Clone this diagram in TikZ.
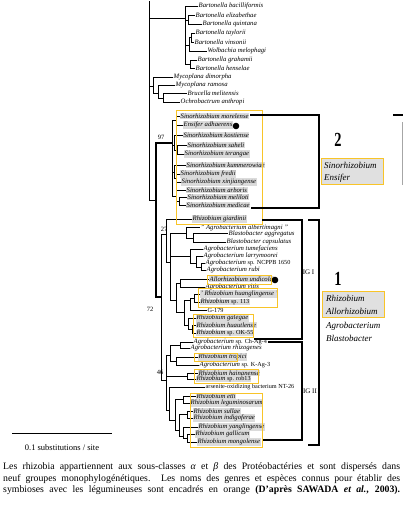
\documentclass[tikz,border=0pt]{standalone}
\usepackage{fontspec}
\setmainfont{Liberation Serif}
\definecolor{boxy}{RGB}{248,196,40}
\newcommand{\uprt}[1]{{\upshape\fontsize{6.2}{7}\selectfont #1}}
\begin{document}
\begin{tikzpicture}[x=1pt,y=-1pt,
  leaf/.style={anchor=west,inner sep=0.5pt,font=\fontsize{6.7}{7}\selectfont\itshape},
  hl/.style={fill=black!14},
  br/.style={line width=0.6pt},
  thk/.style={line width=2.6pt},
  ybox/.style={draw=boxy,line width=0.9pt},
  brk/.style={line width=1.1pt},
  boot/.style={font=\fontsize{6.5}{7}\selectfont,inner sep=0pt},
  dotn/.style={circle,fill=black,inner sep=0pt,minimum size=6.6pt},
  gname/.style={anchor=west,inner sep=0pt,font=\fontsize{9}{10}\selectfont\itshape},
  gnum/.style={inner sep=0pt,font=\fontsize{20}{20}\selectfont\bfseries},
  iglab/.style={inner sep=0pt,font=\fontsize{7}{8}\selectfont},
  capline/.style={anchor=west,inner sep=0pt,font=\fontsize{9.8}{11}\selectfont}]
\useasboundingbox (0,0) rectangle (403,512);

% ---------- leaves ----------
\node[leaf] (l1) at (198,6) {Bartonella bacilliformis};
\node[leaf] (l2) at (195,15) {Bartonella elizabethae};
\node[leaf] (l3) at (202,24) {Bartonella quintana};
\node[leaf] (l4) at (195,33) {Bartonella taylorii};
\node[leaf] (l5) at (194,42) {Bartonella vinsonii};
\node[leaf] (l6) at (207,51) {Wolbachia melophagi};
\node[leaf] (l7) at (197,60) {Bartonella grahamii};
\node[leaf] (l8) at (195,68) {Bartonella henselae};
\node[leaf] (l9) at (173,77) {Mycoplana dimorpha};
\node[leaf] (l10) at (175,85) {Mycoplana ramosa};
\node[leaf] (l11) at (187,93) {Brucella\,melitensis};
\node[leaf] (l12) at (180,102) {Ochrobactrum anthropi};
\node[leaf,hl] (l13) at (180,116) {Sinorhizobium morelense};
\node[leaf,hl] (l14) at (183,125) {Ensifer adhaerens};
\node[leaf,hl] (l15) at (183,135) {Sinorhizobium kostiense};
\node[leaf,hl] (l16) at (187,145) {Sinorhizobium saheli};
\node[leaf,hl] (l17) at (184,154) {Sinorhizobium terangae};
\node[leaf,hl] (l18) at (186,165) {Sinorhizobium kummerowiae};
\node[leaf,hl] (l19) at (180,174) {Sinorhizobium fredii};
\node[leaf,hl] (l20) at (181,182) {Sinorhizobium xinjiangense};
\node[leaf,hl] (l21) at (186,190) {Sinorhizobium arboris};
\node[leaf,hl] (l22) at (187,197) {Sinorhizobium meliloti};
\node[leaf,hl] (l23) at (186,205) {Sinorhizobium medicae};
\node[leaf,hl] (l24) at (192,219) {Rhizobium giardinii};
\node[leaf] (l25) at (200,227.5) {" Agrobacterium albertimagni "};
\node[leaf] (l26) at (228,233.5) {Blastobacter aggregatus};
\node[leaf] (l27) at (226,242) {Blastobacter capsulatus};
\node[leaf] (l28) at (203,249) {Agrobacterium tumefaciens};
\node[leaf] (l29) at (203,256) {Agrobacterium larrymoorei};
\node[leaf] (l30) at (205,263) {Agrobacterium \uprt{sp. NCPPB 1650}};
\node[leaf] (l31) at (206,270) {Agrobacterium rubi};
\node[leaf,hl] (l32) at (209,279) {Allorhizobium undicola};
\node[leaf] (l33) at (205,287) {Agrobacterium vitis};
\node[leaf,hl] (l34) at (200,294) {' Rhizobium huanglingense '};
\node[leaf,hl] (l35) at (200,302) {Rhizobium \uprt{sp. 113}};
\node[leaf] (l36) at (207,310) {\uprt{G-179}};
\node[leaf,hl] (l37) at (196,318) {Rhizobium galegae};
\node[leaf,hl] (l38) at (196,325) {Rhizobium huautlense};
\node[leaf,hl] (l39) at (196,333) {Rhizobium \uprt{sp. OK-55}};
\node[leaf] (l40) at (193,342) {Agrobacterium \uprt{sp. Ch-Ag-4}};
\node[leaf] (l41) at (190,348) {Agrobacterium rhizogenes};
\node[leaf,hl] (l42) at (198,357) {Rhizobium tropici};
\node[leaf] (l43) at (199,365) {Agrobacterium \uprt{sp. K-Ag-3}};
\node[leaf,hl] (l44) at (198,373) {Rhizobium hainanense};
\node[leaf,hl] (l45) at (196,379) {Rhizobium \uprt{sp. rob13}};
\node[leaf] (l46) at (205,387) {\uprt{arsenite-oxidizing bacterium NT-26}};
\node[leaf,hl] (l47) at (196,396) {Rhizobium etli};
\node[leaf,hl] (l48) at (190,403) {Rhizobium leguminosarum};
\node[leaf,hl] (l49) at (193,411) {Rhizobium sullae};
\node[leaf,hl] (l50) at (193,418) {Rhizobium indigoferae};
\node[leaf,hl] (l51) at (198,427) {Rhizobium yanglingense};
\node[leaf,hl] (l52) at (195,434) {Rhizobium gallicum};
\node[leaf,hl] (l53) at (197,442) {Rhizobium mongolense};

% ---------- internal nodes ----------
\coordinate (R) at (149,100);  \coordinate (rtop) at (149,1);
\coordinate (A) at (185,18);   \coordinate (A1) at (188,20);
\coordinate (A2) at (189,45);  \coordinate (A21) at (191,37);
\coordinate (A3) at (190,64);
\coordinate (M) at (153,86);   \coordinate (M1) at (158,93);
\coordinate (M2) at (163,98);
\coordinate (T) at (156,200);
\coordinate (S) at (172,143);  \coordinate (S1) at (176,120);
\coordinate (S2) at (174,145); \coordinate (S21) at (177,150);
\coordinate (S3) at (174,172); \coordinate (S31) at (176,178);
\coordinate (S4) at (176,196); \coordinate (S41) at (179,201);
\coordinate (N72) at (161,297);
\coordinate (N27) at (166,234);
\coordinate (C) at (170,262);
\coordinate (Bl) at (186,233); \coordinate (Bl2) at (193,238);
\coordinate (Ag) at (190,256); \coordinate (Ag2) at (196,263);
\coordinate (Ag3) at (201,267);
\coordinate (D) at (176,300);  \coordinate (Al) at (180,283);
\coordinate (Rh) at (184,312); \coordinate (Rh1) at (190,300);
\coordinate (Rh11) at (194,298); \coordinate (Rh2) at (188,325);
\coordinate (Rh21) at (192,329);
\coordinate (N46) at (166,380);
\coordinate (E) at (170,355);  \coordinate (E1) at (180,345);
\coordinate (E2) at (176,361); \coordinate (F1) at (187,376);
\coordinate (G) at (169,410);  \coordinate (H) at (175,420);
\coordinate (H1) at (183,399); \coordinate (H2) at (179,430);
\coordinate (H21) at (187,414); \coordinate (H22) at (183,436);
\coordinate (H23) at (187,438);

% ---------- branches ----------
\draw[br] (R) -- (rtop);
\foreach \p/\c in {R/A,R/M,R/T,A/A1,A/A2,A/A3,A2/A21,M/M1,M1/M2,
  S/S1,S/S2,S/S3,S/S4,S2/S21,S3/S31,S4/S41,N72/N27,N72/N46,N27/C,
  C/Bl,C/Ag,C/D,Bl/Bl2,Ag/Ag2,Ag2/Ag3,D/Al,D/Rh,Rh/Rh1,Rh1/Rh11,Rh/Rh2,Rh2/Rh21,
  N46/E,N46/F1,N46/G,E/E1,E/E2,G/H,H/H1,H/H2,H2/H21,H2/H22,H22/H23}
  \draw[br] (\p) |- (\c);
\draw[thk] (T) |- (S);
\draw[thk] (T) |- (N72);
\foreach \p/\c in {A/l1,A1/l2,A1/l3,A21/l4,A21/l5,A2/l6,A3/l7,A3/l8,
  M/l9,M1/l10,M2/l11,M2/l12,
  S1/l13,S1/l14,S2/l15,S21/l16,S21/l17,S3/l18,S31/l19,S31/l20,S4/l21,S41/l22,S41/l23,
  N27/l24,Bl/l25,Bl2/l26,Bl2/l27,Ag/l28,Ag2/l29,Ag3/l30,Ag3/l31,Al/l32,Al/l33,
  Rh11/l34,Rh11/l35,Rh1/l36,Rh2/l37,Rh21/l38,Rh21/l39,
  E1/l40,E1/l41,E2/l42,E2/l43,F1/l44,F1/l45,G/l46,
  H1/l47,H1/l48,H21/l49,H21/l50,H22/l51,H23/l52,H23/l53}
  \draw[br] (\p) |- (\c.west);

% bootstrap values
\node[boot] (b97) at (161,137) {97};
\node[boot] (b27) at (164,229) {27};
\node[boot] (b72) at (150,309) {72};
\node[boot] (b46) at (160,372) {46};

% black dots
\node[dotn] (d1) at (236,126) {};
\node[dotn] (d2) at (275,280) {};

% ---------- yellow boxes ----------
\draw[ybox] (176,110) rectangle (262,224);
\draw[ybox] (207,275) rectangle (271,284);
\draw[ybox] (198,288) rectangle (277,307);
\draw[ybox] (193,314) rectangle (253,337);
\draw[ybox] (194,353) rectangle (237,361);
\draw[ybox] (194,369) rectangle (258,383);
\draw[ybox] (190,393) rectangle (262,447);

% ---------- brackets ----------
\coordinate (g2a) at (250,115); \coordinate (g2b) at (319,115);
\coordinate (g2c) at (319,208); \coordinate (g2d) at (251,208);
\draw[brk] (g2a) -- (g2b) -- (g2c) -- (g2d);
\coordinate (g1a) at (308,220); \coordinate (g1b) at (319,220);
\coordinate (g1c) at (319,445); \coordinate (g1d) at (308,445);
\draw[brk,line width=1.4pt] (g1a) -- (g1b) -- (g1c) -- (g1d);
\coordinate (i1a) at (262,220); \coordinate (i1b) at (302,220);
\coordinate (i1c) at (302,339); \coordinate (i1d) at (254,339);
\draw[brk] (i1a) -- (i1b) -- (i1c) -- (i1d);
\coordinate (i2a) at (268,342); \coordinate (i2b) at (302,342);
\coordinate (i2c) at (302,440); \coordinate (i2d) at (263,440);
\draw[brk] (i2a) -- (i2b) -- (i2c) -- (i2d);
\coordinate (fra) at (393,115); \coordinate (frb) at (403,115);
\draw[brk] (fra) -- (frb);
\coordinate (frc) at (402,122); \coordinate (frd) at (402,185);
\draw[black!35,line width=0.8pt] (frc) -- (frd);

\node[iglab] (ig1) at (308.5,272) {IG I};
\node[iglab] (ig2) at (310,391) {IG II};

% ---------- group labels ----------
\node[gnum] (n2) at (338,140) {\scalebox{0.72}[1]{2}};
\draw[ybox,fill=black!12] (321,158) rectangle (383,184);
\node[gname] (sino) at (324,165) {Sinorhizobium};
\node[gname] (ensi) at (324,178) {Ensifer};

\node[gnum] (n1) at (338,279) {\scalebox{0.72}[1]{1}};
\draw[ybox,fill=black!12] (322,291) rectangle (384,317);
\node[gname] (rhiz) at (326,298) {Rhizobium};
\node[gname] (allo) at (326,311) {Allorhizobium};
\node[gname] (agro) at (326,326) {Agrobacterium};
\node[gname] (blas) at (326,338) {Blastobacter};

% ---------- scale bar ----------
\coordinate (sba) at (12,433); \coordinate (sbb) at (112,433);
\draw[line width=0.9pt] (sba) -- (sbb);
\node[inner sep=0pt,font=\fontsize{8.5}{9}\selectfont] (sbl) at (62,448) {0.1 substitutions / site};

% ---------- caption ----------
\node[capline] (c1) at (3,467) {\makebox[397pt][s]{Les rhizobia appartiennent aux sous-classes \textit{α} et \textit{β} des Protéobactéries et sont dispersés dans}};
\node[capline] (c2) at (3,479) {\makebox[397pt][s]{neuf groupes monophylogénétiques. Les noms des genres et espèces connus pour établir des}};
\node[capline] (c3) at (3,490) {\makebox[397pt][s]{symbioses avec les légumineuses sont encadrés en orange \textbf{(D'après SAWADA \textit{et al.}, 2003).}}};
\end{tikzpicture}
\end{document}
